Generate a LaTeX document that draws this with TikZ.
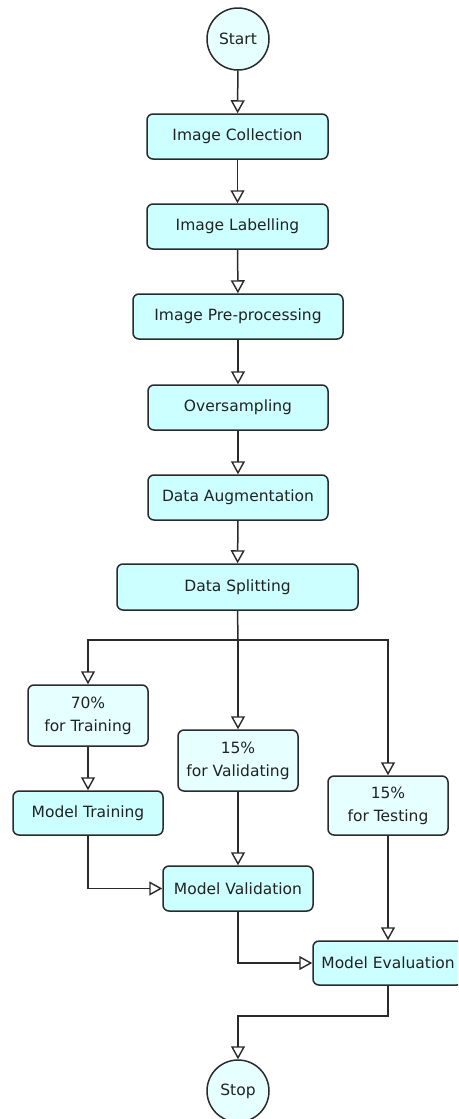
\documentclass[tikz,border=0pt]{standalone}
\usepackage{fontspec}
\setmainfont{DejaVu Sans}
\usetikzlibrary{arrows.meta}
\definecolor{proc}{HTML}{CCFFFF}
\definecolor{term}{HTML}{E6FFFF}
\definecolor{edge}{HTML}{2A2A2A}
\definecolor{txt}{HTML}{222222}
\tikzset{
  base/.style={draw=edge, line width=1.5pt, text=txt, font=\fontsize{15.5}{23}\selectfont, align=center, inner sep=0pt},
  procbox/.style={base, fill=proc, rounded corners=6pt},
  databox/.style={base, fill=term, rounded corners=6pt},
  termcirc/.style={base, fill=term, circle, minimum size=62pt},
  arr/.style={draw=edge, line width=1.5pt, -{Triangle[open, width=14pt, length=13pt, line width=1.4pt]}},
  ln/.style={draw=edge, line width=1.5pt}
}
\begin{document}
\begin{tikzpicture}[x=1pt, y=-1pt]
\clip (0,0) rectangle (458,1119);
\fill[white] (0,0) rectangle (458,1119);
\node[termcirc] (start) at (238,39) {Start};
\node[procbox, minimum width=181pt, minimum height=45pt] (ic) at (237.5,136.5) {Image Collection};
\node[procbox, minimum width=181pt, minimum height=45pt] (il) at (237.5,226.5) {Image Labelling};
\node[procbox, minimum width=210pt, minimum height=45pt] (ipp) at (238,316.5) {Image Pre-processing};
\node[procbox, minimum width=180pt, minimum height=45pt] (os) at (238,407.5) {Oversampling};
\node[procbox, minimum width=180pt, minimum height=45pt] (da) at (238,497.5) {Data Augmentation};
\node[procbox, minimum width=241pt, minimum height=46pt] (ds) at (237.5,587) {Data Splitting};
\coordinate (sp) at (238,640);
\node[databox, minimum width=120pt, minimum height=61pt] (t70) at (88,715.5) {70\%\\for Training};
\node[databox, minimum width=120pt, minimum height=61pt] (v15) at (238,760.5) {15\%\\for Validating};
\node[databox, minimum width=120pt, minimum height=59pt] (t15) at (388,805.5) {15\%\\for Testing};
\node[procbox, minimum width=150pt, minimum height=44pt] (mt) at (88,813) {Model Training};
\node[procbox, minimum width=150pt, minimum height=45pt] (mv) at (238,888.5) {Model Validation};
\node[procbox, minimum width=150pt, minimum height=44pt] (me) at (388,963) {Model Evaluation};
\coordinate (j) at (388,1016);
\node[termcirc] (stop) at (238,1091) {Stop};

\draw[arr] (start) -- (ic);
\draw[arr] (ic) -- (il);
\draw[arr] (il) -- (ipp);
\draw[arr] (ipp) -- (os);
\draw[arr] (os) -- (da);
\draw[arr] (da) -- (ds);
\draw[ln] (ds.south) -- (sp);
\draw[arr] (sp) -- (v15.north);
\draw[arr] (sp) -| (t70.north);
\draw[arr] (sp) -| (t15.north);
\draw[arr] (t70) -- (mt);
\draw[arr] (mt.south) |- (mv.west);
\draw[arr] (v15) -- (mv);
\draw[arr] (mv.south) |- (me.west);
\draw[arr] (t15.south) -- (me.north);
\draw[arr] (me.south) -- (j) -| (stop.north);
\end{tikzpicture}
\end{document}
